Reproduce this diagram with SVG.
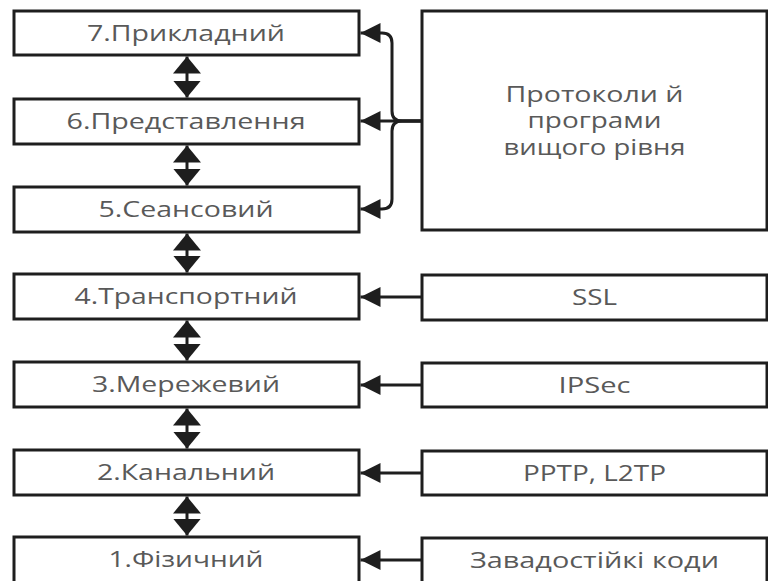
<svg xmlns="http://www.w3.org/2000/svg" width="768" height="581" viewBox="0 0 768 581">
<style>
.box{fill:#fff;stroke:#1e1e1e;stroke-width:3}
.t{font-family:"Open Sans","Noto Sans","DejaVu Sans",sans-serif;font-size:21px;fill:#595959;text-anchor:middle}
.ln{fill:none;stroke:#1e1e1e;stroke-width:3}
</style>
<defs>
<marker id="vh" markerUnits="userSpaceOnUse" viewBox="0 0 17 28" markerWidth="17" markerHeight="28" refX="17" refY="14" orient="auto-start-reverse"><path d="M0,0 L17,14 L0,28 z" fill="#1e1e1e"/></marker>
<marker id="hh" markerUnits="userSpaceOnUse" viewBox="0 0 20 20" markerWidth="20" markerHeight="20" refX="20" refY="10" orient="auto-start-reverse"><path d="M0,0 L20,10 L0,20 z" fill="#1e1e1e"/></marker>
</defs>
<rect width="768" height="581" fill="#fff"/>
<g id="l7"><rect class="box" x="14" y="11" width="345" height="44"/><text class="t" x="186" y="41" textLength="198" lengthAdjust="spacingAndGlyphs">7.Прикладний</text></g>
<g id="l6"><rect class="box" x="14" y="99" width="345" height="45"/><text class="t" x="186" y="129" textLength="239" lengthAdjust="spacingAndGlyphs">6.Представлення</text></g>
<g id="l5"><rect class="box" x="14" y="187" width="345" height="45"/><text class="t" x="186" y="217" textLength="175" lengthAdjust="spacingAndGlyphs">5.Сеансовий</text></g>
<g id="l4"><rect class="box" x="14" y="274" width="345" height="45"/><text class="t" x="186" y="304" textLength="223" lengthAdjust="spacingAndGlyphs">4.Транспортний</text></g>
<g id="l3"><rect class="box" x="14" y="362" width="345" height="45"/><text class="t" x="186" y="392" textLength="188" lengthAdjust="spacingAndGlyphs">3.Мережевий</text></g>
<g id="l2"><rect class="box" x="14" y="450" width="345" height="45"/><text class="t" x="186" y="480" textLength="178" lengthAdjust="spacingAndGlyphs">2.Канальний</text></g>
<g id="l1"><rect class="box" x="14" y="537" width="345" height="60"/><text class="t" x="186" y="567" textLength="155" lengthAdjust="spacingAndGlyphs">1.Фізичний</text></g>
<g id="upper"><rect class="box" x="422" y="11" width="345" height="219"/>
<text class="t" x="594.5" y="102" textLength="178" lengthAdjust="spacingAndGlyphs">Протоколи й</text>
<text class="t" x="594.5" y="128" textLength="134" lengthAdjust="spacingAndGlyphs">програми</text>
<text class="t" x="594.5" y="155" textLength="182" lengthAdjust="spacingAndGlyphs">вищого рівня</text></g>
<g id="ssl"><rect class="box" x="422" y="275" width="345" height="45"/><text class="t" x="594.5" y="305" textLength="45" lengthAdjust="spacingAndGlyphs">SSL</text></g>
<g id="ipsec"><rect class="box" x="422" y="363" width="345" height="44"/><text class="t" x="594.5" y="393" textLength="72" lengthAdjust="spacingAndGlyphs">IPSec</text></g>
<g id="pptp"><rect class="box" x="422" y="451" width="345" height="44"/><text class="t" x="594.5" y="481" textLength="143" lengthAdjust="spacingAndGlyphs">PPTP, L2TP</text></g>
<g id="fec"><rect class="box" x="422" y="538" width="345" height="60"/><text class="t" x="594.5" y="568" textLength="249" lengthAdjust="spacingAndGlyphs">Завадостійкі коди</text></g>
<g id="connectors">
<path class="ln" d="M187,56.5 V97.5" marker-start="url(#vh)" marker-end="url(#vh)"/>
<path class="ln" d="M187,145.5 V185.5" marker-start="url(#vh)" marker-end="url(#vh)"/>
<path class="ln" d="M187,233.5 V272.5" marker-start="url(#vh)" marker-end="url(#vh)"/>
<path class="ln" d="M187,320.5 V360.5" marker-start="url(#vh)" marker-end="url(#vh)"/>
<path class="ln" d="M187,408.5 V448.5" marker-start="url(#vh)" marker-end="url(#vh)"/>
<path class="ln" d="M187,496.5 V535.5" marker-start="url(#vh)" marker-end="url(#vh)"/>
<path class="ln" d="M422,121 H402 Q392,121 392,111 V43 Q392,33 382,33 H360.5" marker-end="url(#hh)"/>
<path class="ln" d="M422,121 H360.5" marker-end="url(#hh)"/>
<path class="ln" d="M422,121 H402 Q392,121 392,131 V199 Q392,209 382,209 H360.5" marker-end="url(#hh)"/>
<path class="ln" d="M422,297 H360.5" marker-end="url(#hh)"/>
<path class="ln" d="M422,385 H360.5" marker-end="url(#hh)"/>
<path class="ln" d="M422,473 H360.5" marker-end="url(#hh)"/>
<path class="ln" d="M422,560 H360.5" marker-end="url(#hh)"/>
</g>
</svg>
